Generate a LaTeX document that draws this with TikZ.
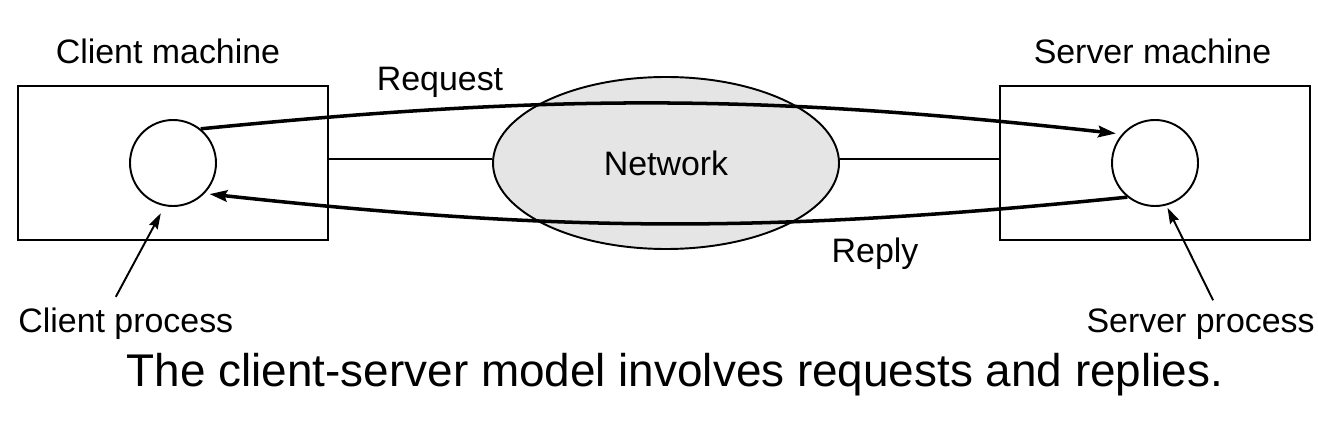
\documentclass[tikz,border=0pt]{standalone}
\usepackage{fontspec}
\setmainfont{Liberation Sans}
\usetikzlibrary{positioning,arrows.meta,shapes.geometric,calc}

\begin{document}
\begin{tikzpicture}[>=Stealth,
    lbl/.style={font=\fontsize{19.3}{23}\selectfont, inner sep=0pt},
    machine/.style={draw, line width=1.1pt, minimum width=6.2cm, minimum height=3.08cm, inner sep=0pt},
    proc/.style={draw, circle, line width=1.1pt, minimum size=1.72cm, inner sep=0pt},
    msg/.style={line width=2pt, -{Stealth[length=10pt, width=6.5pt, inset=1.5pt]}},
    pointer/.style={line width=1.1pt, -{Stealth[length=9pt, width=5.5pt, inset=1.2pt]}}]

    \useasboundingbox (0,0) rectangle (26.36,8.4);

    % --- NETWORK ---
    \node[draw, ellipse, fill=gray!20, line width=1.1pt, minimum width=6.92cm,
          minimum height=3.44cm, inner sep=0pt, lbl] (net) at (13.32,5.14) {Network};

    % --- CLIENT SIDE ---
    \node[machine] (cbox) at (3.46,5.14) {};
    \node[proc] (client) at (3.46,5.14) {};
    \node[lbl] (cname) at (3.36,7.38) {Client machine};
    \node[lbl, anchor=west] (cproc) at (0.36,1.92) {Client process};

    % --- SERVER SIDE ---
    \node[machine] (sbox) at (23.1,5.14) {};
    \node[proc] (server) at (23.1,5.14) {};
    \node[lbl] (sname) at (23.05,7.38) {Server machine};
    \node[lbl, anchor=east] (sproc) at (26.3,1.92) {Server process};

    % links to the network
    \draw[line width=1.1pt] ([yshift=0.08cm]cbox.east) -- ([yshift=0.08cm]net.west);
    \draw[line width=1.1pt] ([yshift=0.08cm]net.east) -- ([yshift=0.08cm]sbox.west);

    % --- MESSAGES ---
    \draw[msg, shorten >=0.12cm] (client.51) to[bend left=6] (server.139);
    \node[lbl] (req) at (8.8,6.76) {Request};
    \draw[msg, shorten >=0.1cm] (server.231) to[bend left=6] (client.-44);
    \node[lbl] (rep) at (17.5,3.32) {Reply};

    % process pointers
    \draw[pointer, shorten >=0.16cm] ([xshift=-0.2cm, yshift=0.22cm]cproc.north) -- (client.-101);
    \draw[pointer, shorten >=0.05cm] ([xshift=0.25cm, yshift=0.16cm]sproc.north) -- (server.-75);

    % caption
    \node[font=\fontsize{26.1}{30}\selectfont, inner sep=0pt] (cap) at (13.5,0.9)
        {The client-server model involves requests and replies.};

\end{tikzpicture}
\end{document}
